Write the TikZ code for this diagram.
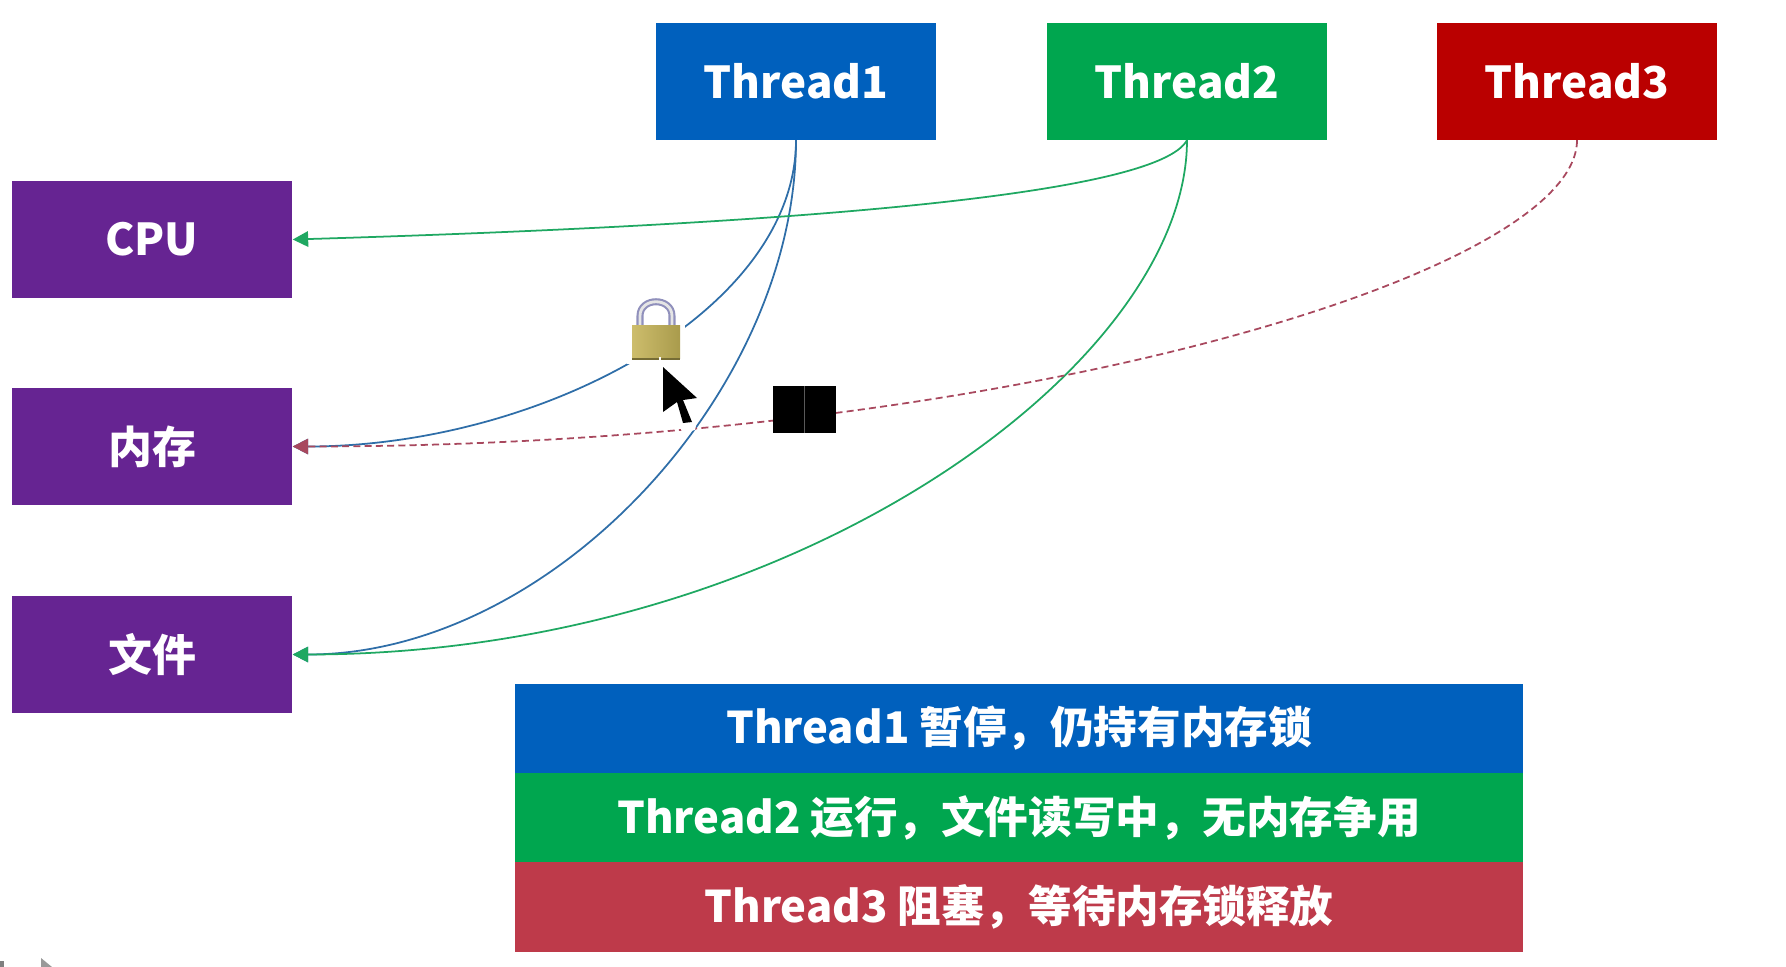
\documentclass[tikz,border=0pt]{standalone}
\usepackage{fontspec}
\setmainfont{Noto Sans CJK SC}
\usetikzlibrary{arrows.meta}
\definecolor{blueT}{HTML}{0060BD}
\definecolor{greenT}{HTML}{00A64F}
\definecolor{redT}{HTML}{BA0000}
\definecolor{purpleR}{HTML}{662492}
\definecolor{redS}{HTML}{BE3A4A}
\definecolor{lineB}{HTML}{2F6EA8}
\definecolor{lineG}{HTML}{1FA862}
\definecolor{lineR}{HTML}{A8485E}
\definecolor{lockL}{HTML}{CDBD6C}
\definecolor{lockR}{HTML}{A99B4C}
\tikzset{
  box/.style={rectangle,text=white,font=\fontsize{12.5}{15}\selectfont\bfseries,minimum width=2.8cm,minimum height=1.17cm,inner sep=0pt},
  bar/.style={rectangle,text=white,font=\fontsize{12.4}{15}\selectfont\bfseries,minimum width=10.08cm,minimum height=0.9cm,inner sep=0pt},
  link/.style={-{Triangle[length=4.4pt,width=4.4pt]},line width=0.5pt},
}
\begin{document}
\begin{tikzpicture}[x=1cm,y=-1cm]
\useasboundingbox (0,0) rectangle (17.86,9.67);
\node[box,fill=blueT] (T1) at (7.96,0.81) {Thread1};
\node[box,fill=greenT] (T2) at (11.87,0.81) {Thread2};
\node[box,fill=redT] (T3) at (15.77,0.81) {Thread3};
\node[box,fill=purpleR] (CPU) at (1.52,2.395) {CPU};
\node[box,fill=purpleR] (Mem) at (1.52,4.465) {内存};
\node[box,fill=purpleR] (File) at (1.52,6.545) {文件};
\node[bar,fill=blueT] (S1) at (10.19,7.285) {Thread1 暂停，仍持有内存锁};
\node[bar,fill=greenT] (S2) at (10.19,8.175) {Thread2 运行，文件读写中，无内存争用};
\node[bar,fill=redS] (S3) at (10.19,9.07) {Thread3 阻塞，等待内存锁释放};
\draw[link,lineB] (T1.south) .. controls +(0,1.71) and +(2.48,0) .. (Mem.east);
\draw[link,lineB] (T1.south) .. controls +(0,2.5) and +(2.6,0) .. (File.east);
\draw[link,lineG] (T2.south) .. controls +(-0.3,0.55) and +(5,-0.15) .. (CPU.east);
\draw[link,lineG] (T2.south) .. controls +(0,2.25) and +(5.0,0) .. (File.east);
\draw[link,lineR,dash pattern=on 2pt off 1.2pt] (T3.south) .. controls +(0,1.35) and +(7.08,0) .. (Mem.east);
% lock
\fill[white] (6.27,3.2) rectangle (6.85,3.64);
\draw[gray!75!blue!70,line width=2pt] (6.4,3.27) -- (6.4,3.16) .. controls (6.4,2.97) and (6.72,2.97) .. (6.72,3.16) -- (6.72,3.27);
\draw[gray!20,line width=0.8pt] (6.4,3.27) -- (6.4,3.16) .. controls (6.4,2.97) and (6.72,2.97) .. (6.72,3.16) -- (6.72,3.27);
\fill[left color=lockL,right color=lockR] (6.32,3.25) rectangle (6.8,3.58);
\fill[lockR!70!black] (6.32,3.58) rectangle (6.8,3.6);
\fill[white] (6.59,3.57) rectangle (6.61,3.6);
% cursor
\fill[white] (6.6,3.63) -- (6.58,4.2) -- (6.8,4.25) -- (6.82,4.33) -- (6.95,4.3) -- (7.03,3.95) -- cycle;
\fill[black] (6.63,3.67) -- (6.63,4.12) -- (6.77,4.02) -- (6.83,4.23) -- (6.92,4.22) -- (6.83,4.0) -- (6.97,3.98) -- cycle;
% blocked mark
\fill[black] (7.73,3.86) rectangle (8.36,4.33);
\draw[gray!70!black,line width=0.2pt] (8.04,3.86) -- (8.04,4.33);
% corner
\fill[gray] (0,9.61) rectangle (0.04,9.67);
\fill[gray!80] (0.27,9.67) -- (0.41,9.67) -- (0.41,9.58) -- (0.52,9.67) -- cycle;
\end{tikzpicture}
\end{document}
